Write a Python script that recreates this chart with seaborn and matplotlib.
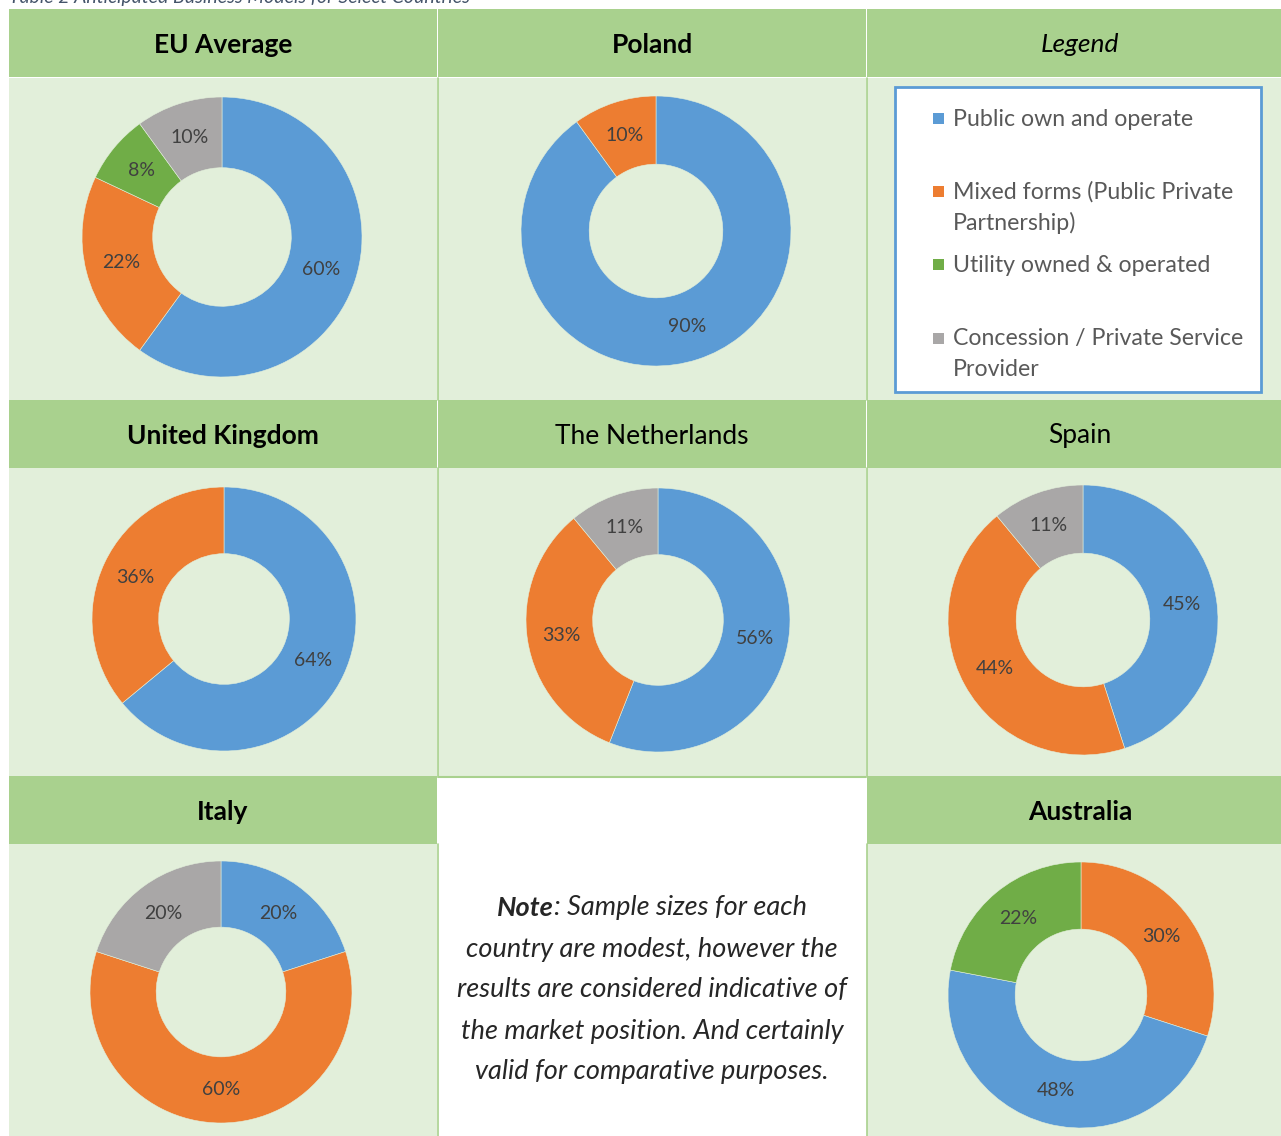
import matplotlib
matplotlib.use("Agg")
import matplotlib.pyplot as plt
from matplotlib.patches import Rectangle
import seaborn as sns

# ---------------- data ----------------
categories = ["Public own and operate",
              "Mixed forms (Public Private Partnership)",
              "Utility owned & operated",
              "Concession / Private Service Provider"]
legend_lines = [["Public own and operate"],
                ["Mixed forms (Public Private", "Partnership)"],
                ["Utility owned & operated"],
                ["Concession / Private Service", "Provider"]]

eu_values = [60, 22, 8, 10]
poland_values = [90, 10, 0, 0]
uk_values = [64, 36, 0, 0]
netherlands_values = [56, 33, 0, 11]
spain_values = [45, 44, 0, 11]
italy_values = [20, 60, 0, 20]
australia_values = [48, 30, 22, 0]

default_order = [0, 1, 2, 3]
australia_order = [1, 0, 2, 3]

titles = ["EU Average", "Poland", "United Kingdom", "The Netherlands",
          "Spain", "Italy", "Australia"]
title_bold = [True, True, True, False, False, True, True]

note_bold = "Note"
note_lines = [": Sample sizes for each",
              "country are modest, however the",
              "results are considered indicative of",
              "the market position. And certainly",
              "valid for comparative purposes."]
caption = "Table 2 Anticipated Business Models for Select Countries"

# ---------------- style ----------------
sns.set_style("white")
palette = sns.color_palette(["#5b9bd5", "#ed7d31", "#70ad47", "#a9a7a7"])
FONT = ["Lato", "DejaVu Sans"]
plt.rcParams["font.family"] = FONT

W, H = 1281, 1136
fig = plt.figure(figsize=(W / 100, H / 100), dpi=100)
fig.patch.set_facecolor("white")

bg = fig.add_axes([0, 0, 1, 1])
bg.set_xlim(0, W)
bg.set_ylim(H, 0)
bg.axis("off")

HEAD = "#a9d18e"
BODY = "#e2efda"

def rect(x0, y0, x1, y1, color, z=1):
    bg.add_patch(Rectangle((x0, y0), x1 - x0, y1 - y0, facecolor=color,
                           edgecolor="none", zorder=z))

# columns
cols = [(9, 437), (438, 866), (867, 1281)]
col_cx = [223, 652, 1080]
# rows: header and body
rows = [((9, 77), (78, 400)), ((400, 468), (468, 776)), ((776, 844), (844, 1136))]

for ri, ((h0, h1), (b0, b1)) in enumerate(rows):
    for ci, (x0, x1) in enumerate(cols):
        if ri == 2 and ci == 1:
            rect(x0, h0, x1, b1, "white")
            continue
        rect(x0, h0, x1, h1, HEAD)
        rect(x0, b0, x1, b1, BODY)
# grid lines in body rows
for (h0, h1), (b0, b1) in rows:
    for xl in (437.5, 866.5):
        bg.plot([xl, xl], [b0, b1], color=HEAD, lw=1.2, zorder=2)
bg.plot([438, 866], [776.5, 776.5], color=HEAD, lw=1.5, zorder=2)

# caption (partly cut at top, as in the source)
bg.text(9, 3.5, caption, fontsize=14, style="italic", color="#44546a",
        va="baseline", ha="left", zorder=3)

# headers
header_cells = [(0, 0), (0, 1), (1, 0), (1, 1), (1, 2), (2, 0), (2, 2)]
HEAD_FS = 19
for t, b, (ri, ci) in zip(titles, title_bold, header_cells):
    h0, h1 = rows[ri][0]
    bg.text(col_cx[ci], (h0 + h1) / 2 + 2, t, fontsize=HEAD_FS,
            fontweight="bold" if b else "normal", color="black",
            ha="center", va="center", zorder=3)
bg.text(col_cx[2], (rows[0][0][0] + rows[0][0][1]) / 2 + 2, "Legend",
        fontsize=HEAD_FS, style="italic", color="black", ha="center", va="center", zorder=3)

# legend box
bg.add_patch(Rectangle((895, 87), 366, 305, facecolor="white",
                       edgecolor="#5b9bd5", lw=2, zorder=3))
entry_y = [119, 192, 265, 339]
for i, (lines, y) in enumerate(zip(legend_lines, entry_y)):
    bg.add_patch(Rectangle((933, y - 6), 11, 11, facecolor=palette[i],
                           edgecolor="none", zorder=4))
    for k, ln in enumerate(lines):
        bg.text(953, y + k * 31, ln, fontsize=16.7, color="#595959",
                ha="left", va="center", zorder=4)

# ---------------- donuts ----------------
donuts = [
    (eu_values, default_order, 222, 237, 140),
    (poland_values, default_order, 656, 231, 135),
    (uk_values, default_order, 224, 619, 132),
    (netherlands_values, default_order, 658, 620, 132),
    (spain_values, default_order, 1083, 620, 135),
    (italy_values, default_order, 221, 992, 131),
    (australia_values, australia_order, 1081, 995, 133),
]
for vals, order, cx, cy, r in donuts:
    idx = [i for i in order if vals[i] > 0]
    v = [vals[i] for i in idx]
    cs = [palette[i] for i in idx]
    ax = fig.add_axes([(cx - r) / W, 1 - (cy + r) / H, 2 * r / W, 2 * r / H])
    ax.set_facecolor("none")
    wedges, texts, autotexts = ax.pie(
        v, colors=cs, startangle=90, counterclock=False, radius=1,
        autopct=lambda p: f"{p:.0f}%", pctdistance=0.745,
        wedgeprops=dict(width=0.505, edgecolor="#e2efda", linewidth=0.4),
        textprops=dict(fontsize=14, color="#404040"))
    ax.set_xlim(-1, 1)
    ax.set_ylim(-1, 1)
    ax.axis("off")

# ---------------- note ----------------
fig.canvas.draw()
renderer = fig.canvas.get_renderer()
note_y = [908, 949, 990, 1031, 1072]
NOTE_FS = 19.5
tb = bg.text(0, note_y[0], note_bold, fontsize=NOTE_FS, style="italic",
             fontweight="bold", ha="left", va="center", zorder=3)
tr = bg.text(0, note_y[0], note_lines[0], fontsize=NOTE_FS, style="italic",
             ha="left", va="center", zorder=3)
wb = tb.get_window_extent(renderer).width
wr = tr.get_window_extent(renderer).width
x0 = 652 - (wb + wr) / 2
tb.set_x(x0)
tr.set_x(x0 + wb)
for ln, y in zip(note_lines[1:], note_y[1:]):
    bg.text(652, y, ln, fontsize=NOTE_FS, style="italic", ha="center",
            va="center", zorder=3)

fig.savefig("out.png", dpi=100, facecolor="white")
